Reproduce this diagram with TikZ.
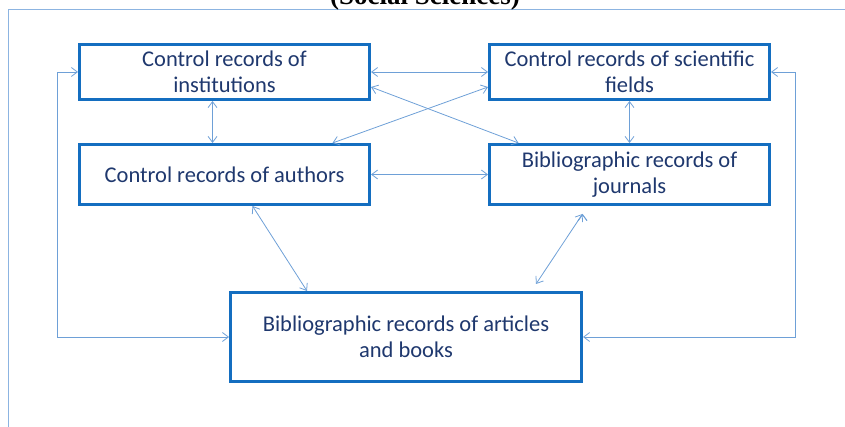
\documentclass[tikz,border=0pt]{standalone}
\usepackage{fontspec}
\setmainfont{Carlito}
\newfontfamily\titlefont{Liberation Serif}
\usetikzlibrary{arrows.meta, positioning}

\definecolor{boxblue}{RGB}{20,110,192}
\definecolor{textnavy}{RGB}{31,56,110}
\definecolor{linkblue}{RGB}{110,160,215}
\definecolor{frameblue}{RGB}{140,180,225}

\begin{document}
\begin{tikzpicture}[x=1pt, y=-1pt]
				\tikzstyle{every node} = [font=\fontsize{22.5}{26}\selectfont, text=textnavy]
				% Setup the style for the records
				\tikzset{record/.style={draw=boxblue,
										line width=3pt,
										align=center,
										inner sep=0pt,
										fill=white}}
				\useasboundingbox (0,0) rectangle (845,427);
				% Frame and title
				\draw[frameblue, line width=0.8pt] (8,427) -- (8,9) -- (845,9);
				\node[font=\titlefont\bfseries\fontsize{27}{30}\selectfont, text=black, anchor=base] at (425,5) (head) {(Social Sciences)};
				% Draw the records
				\node[record, minimum width=290pt, minimum height=55pt] at (224.5, 72)   (inst)   {Control records of\\institutions};
				\node[record, minimum width=290pt, minimum height=60pt] at (224.5, 174.5) (auth)   {Control records of authors};
				\node[record, minimum width=280pt, minimum height=55pt] at (629.5, 72)   (fields) {Control records of scientific\\fields};
				\node[record, minimum width=280pt, minimum height=60pt] at (629.5, 174.5) (jour)   {Bibliographic records of\\journals};
				\node[record, minimum width=351pt, minimum height=89pt] at (406, 337)    (art)    {Bibliographic records of articles\\and books};
				% Connect the records with arrows
				\draw[draw=linkblue,
					  line width=0.8pt,
					  <->,
					  >={Straight Barb[length=6pt,width=9pt]}]
					(inst)   edge (fields)
					(auth)   edge (jour)
					(fields) edge (jour)
					([xshift=-12pt]inst.south)  edge ([xshift=-12pt]auth.north)
					([yshift=-15pt]inst.east)   edge ([xshift=-111pt]jour.north)
					([xshift=108pt]auth.north)  edge ([yshift=-15pt]fields.west)
					([xshift=28pt]auth.south)   edge ([xshift=-99pt]art.north)
					([xshift=-47pt,yshift=-8pt]jour.south) edge ([xshift=130pt,yshift=7pt]art.north);
				\draw[draw=linkblue, line width=0.8pt, <->, >={Straight Barb[length=6pt,width=9pt]}]
					(inst.west) -- ++(-21,0) |- (art.west);
				\draw[draw=linkblue, line width=0.8pt, <->, >={Straight Barb[length=6pt,width=9pt]}]
					(fields.east) -- ++(24,0) |- (art.east);
\end{tikzpicture}
\end{document}
